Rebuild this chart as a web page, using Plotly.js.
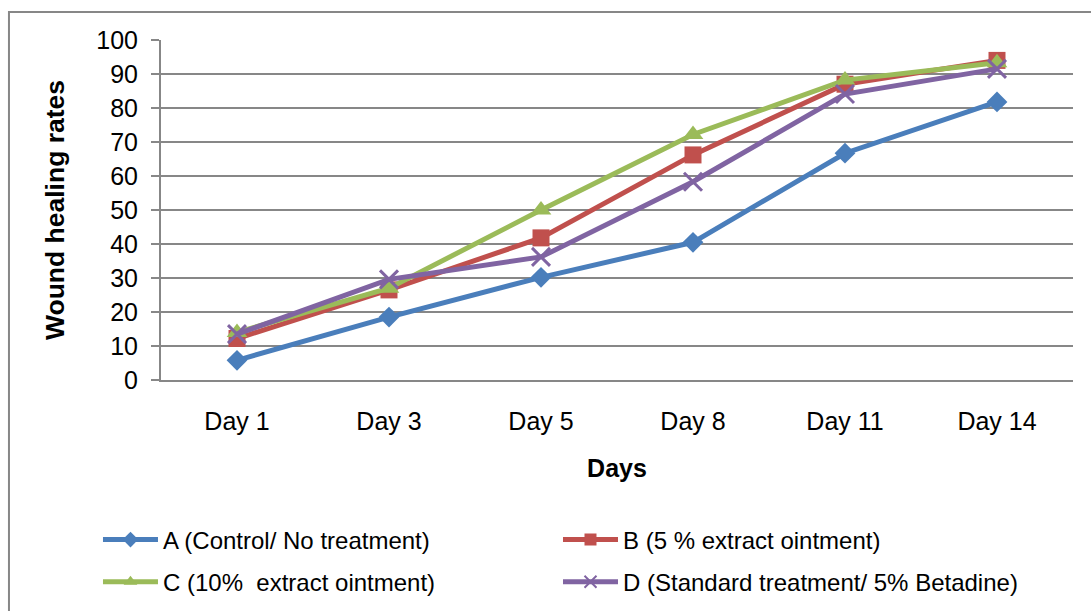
<!DOCTYPE html>
<html>
<head>
<meta charset="utf-8">
<script src="https://cdn.plot.ly/plotly-3.0.1.min.js"></script>
<style>html,body{margin:0;padding:0;background:#fff;}#chart{width:1091px;height:611px;}</style>
</head>
<body>
<div id="chart"></div>
<script>
const days = ["Day 1", "Day 3", "Day 5", "Day 8", "Day 11", "Day 14"];
const seriesA = [5.8, 18.5, 30.2, 40.5, 66.7, 81.8];
const seriesB = [12.2, 26.5, 41.8, 66.2, 87.0, 94.0];
const seriesC = [14.0, 27.0, 50.0, 72.2, 88.2, 93.3];
const seriesD = [13.5, 29.6, 36.2, 58.3, 84.1, 91.5];
const names = [
  "A (Control/ No treatment)",
  "B (5 % extract ointment)",
  "C (10%  extract ointment)",
  "D (Standard treatment/ 5% Betadine)"
];
const yTicks = [0, 10, 20, 30, 40, 50, 60, 70, 80, 90, 100];

const FONT = "Arial, 'Liberation Sans', sans-serif";
const GRID = "#878787";

const traces = [
  {x: days, y: seriesA, name: names[0], mode: "lines+markers", legend: "legend",
   line: {color: "#4A7EBB", width: 5},
   marker: {symbol: "diamond", size: 16, color: "#4A7EBB"}},
  {x: days, y: seriesB, name: names[1], mode: "lines+markers", legend: "legend2",
   line: {color: "#C0504D", width: 5},
   marker: {symbol: "square", size: 17, color: "#C0504D"}},
  {x: days, y: seriesC, name: names[2], mode: "lines+markers", legend: "legend3",
   line: {color: "#9BBB59", width: 5},
   marker: {symbol: "triangle-up", size: 18, color: "#9BBB59"}},
  {x: days, y: seriesD, name: names[3], mode: "lines+markers", legend: "legend4",
   line: {color: "#8064A2", width: 5},
   marker: {symbol: "x-thin", size: 18, color: "#8064A2", line: {color: "#8064A2", width: 3}}}
];

function leg(x, y) {
  return {
    orientation: "v",
    xref: "paper", x: x, xanchor: "left",
    yref: "container", y: y, yanchor: "top",
    itemwidth: 55,
    itemsizing: "constant",
    font: {size: 24},
    bgcolor: "rgba(0,0,0,0)"
  };
}

const layout = {
  width: 1091, height: 611,
  margin: {l: 161, r: 18, t: 40, b: 231},
  paper_bgcolor: "#fff", plot_bgcolor: "#fff",
  font: {family: FONT, color: "#000", size: 25},
  showlegend: true,
  xaxis: {
    type: "category",
    range: [-0.5, 5.5],
    showgrid: false, zeroline: false,
    showline: true, linecolor: GRID, linewidth: 2,
    ticks: "", ticklabelstandoff: 18,
    tickfont: {size: 25},
    title: {text: "<b>Days</b>", font: {size: 25}, standoff: 25},
    fixedrange: true
  },
  yaxis: {
    range: [0, 100], tickvals: yTicks, ticktext: yTicks.map(String),
    showgrid: true, gridcolor: GRID, gridwidth: 2,
    zeroline: false,
    showline: true, linecolor: GRID, linewidth: 2,
    ticks: "outside", ticklen: 8, tickcolor: GRID, tickwidth: 2,
    ticklabelstandoff: 8,
    tickfont: {size: 25},
    title: {text: "<b>Wound healing rates</b>", font: {size: 26.5}, standoff: 24},
    fixedrange: true
  },
  legend: leg(-0.0691, 0.153),
  legend2: leg(0.4353, 0.153),
  legend3: leg(-0.0691, 0.084),
  legend4: leg(0.4353, 0.084),
  shapes: [{
    type: "rect", xref: "paper", yref: "paper",
    x0: -0.1667, x1: 1.03, y0: -0.72, y1: 1.082,
    line: {color: GRID, width: 2}, fillcolor: "rgba(0,0,0,0)", layer: "below"
  }]
};

Plotly.newPlot("chart", traces, layout, {displayModeBar: false, staticPlot: true});
</script>
</body>
</html>
